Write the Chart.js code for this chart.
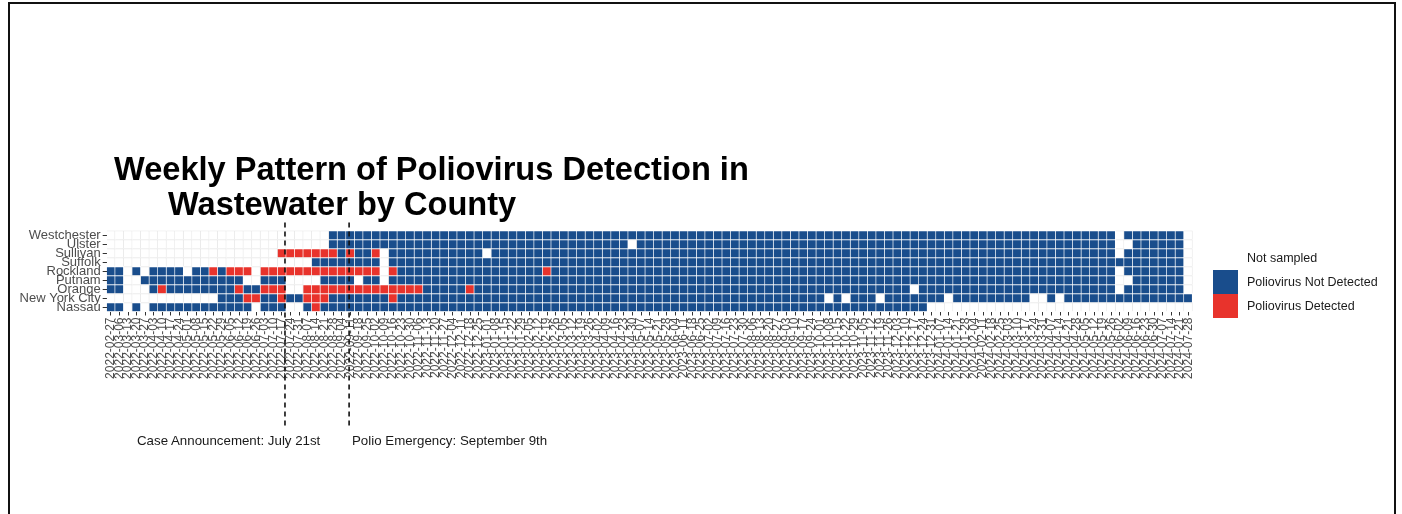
<!DOCTYPE html>
<html>
<head>
<meta charset="utf-8">
<script src="https://cdn.jsdelivr.net/npm/chart.js@4.4.0/dist/chart.umd.min.js"></script>
<style>
  body { margin: 0; background: #fff; }
  #wrap { position: relative; width: 1402px; height: 514px; overflow: hidden; font-family: "Liberation Sans", Arial, sans-serif; }
  #frame { position: absolute; left: 8px; top: 2px; width: 1388px; height: 540px; border: 2px solid #111; box-sizing: border-box; }
  canvas { position: absolute; left: 0; top: 0; }
  .ttl { position: absolute; font-weight: bold; font-size: 32.6px; line-height: 32.6px; color: #000; white-space: nowrap; }
  .note { position: absolute; font-size: 13.3px; line-height: 14px; color: #1a1a1a; white-space: nowrap; }
  .key { position: absolute; left: 1213px; width: 25px; height: 24px; }
  .keytxt { position: absolute; left: 1247px; font-size: 12.5px; line-height: 14px; color: #1a1a1a; white-space: nowrap; }
</style>
</head>
<body>
<div id="wrap">
  <canvas id="heat" width="1402" height="514"></canvas>
  <div id="frame"></div>
  <div class="ttl" style="left:114px;top:153px;">Weekly Pattern of Poliovirus Detection in</div>
  <div class="ttl" style="left:168px;top:188px;">Wastewater by County</div>
  <div class="note" style="left:137px;top:434px;">Case Announcement: July 21st</div>
  <div class="note" style="left:352px;top:434px;">Polio Emergency: September 9th</div>
  <div class="key" style="top:245px;background:#ffffff;"></div>
  <div class="key" style="top:270px;background:#194d8c;"></div>
  <div class="key" style="top:294px;background:#e8332c;"></div>
  <div class="keytxt" style="top:251px;">Not sampled</div>
  <div class="keytxt" style="top:275px;">Poliovirus Not Detected</div>
  <div class="keytxt" style="top:299px;">Poliovirus Detected</div>
</div>
<script>
// DATA
// weekly sample dates (x axis)
const weeks = [
  '2022-02-27',
  '2022-03-06', '2022-03-13', '2022-03-20', '2022-03-27',
  '2022-04-03', '2022-04-10', '2022-04-17', '2022-04-24',
  '2022-05-01', '2022-05-08', '2022-05-15', '2022-05-22', '2022-05-29',
  '2022-06-05', '2022-06-12', '2022-06-19', '2022-06-26',
  '2022-07-03', '2022-07-10', '2022-07-17', '2022-07-24', '2022-07-31',
  '2022-08-07', '2022-08-14', '2022-08-21', '2022-08-28',
  '2022-09-04', '2022-09-11', '2022-09-18', '2022-09-25',
  '2022-10-02', '2022-10-09', '2022-10-16', '2022-10-23', '2022-10-30',
  '2022-11-06', '2022-11-13', '2022-11-20', '2022-11-27',
  '2022-12-04', '2022-12-11', '2022-12-18', '2022-12-25',
  '2023-01-01', '2023-01-08', '2023-01-15', '2023-01-22', '2023-01-29',
  '2023-02-05', '2023-02-12', '2023-02-19', '2023-02-26',
  '2023-03-05', '2023-03-12', '2023-03-19', '2023-03-26',
  '2023-04-02', '2023-04-09', '2023-04-16', '2023-04-23', '2023-04-30',
  '2023-05-07', '2023-05-14', '2023-05-21', '2023-05-28',
  '2023-06-04', '2023-06-11', '2023-06-18', '2023-06-25',
  '2023-07-02', '2023-07-09', '2023-07-16', '2023-07-23', '2023-07-30',
  '2023-08-06', '2023-08-13', '2023-08-20', '2023-08-27',
  '2023-09-03', '2023-09-10', '2023-09-17', '2023-09-24',
  '2023-10-01', '2023-10-08', '2023-10-15', '2023-10-22', '2023-10-29',
  '2023-11-05', '2023-11-12', '2023-11-19', '2023-11-26',
  '2023-12-03', '2023-12-10', '2023-12-17', '2023-12-24', '2023-12-31',
  '2024-01-07', '2024-01-14', '2024-01-21', '2024-01-28',
  '2024-02-04', '2024-02-11', '2024-02-18', '2024-02-25',
  '2024-03-03', '2024-03-10', '2024-03-17', '2024-03-24', '2024-03-31',
  '2024-04-07', '2024-04-14', '2024-04-21', '2024-04-28',
  '2024-05-05', '2024-05-12', '2024-05-19', '2024-05-26',
  '2024-06-02', '2024-06-09', '2024-06-16', '2024-06-23', '2024-06-30',
  '2024-07-07', '2024-07-14', '2024-07-21', '2024-07-28'
];

// rows, top to bottom
const counties = ['Westchester', 'Ulster', 'Sullivan', 'Suffolk', 'Rockland', 'Putnam', 'Orange', 'New York City', 'Nassau'];

// one char per week: 0 = not sampled, 1 = not detected, 2 = detected
const westchester = '0000000000 0000000000 0000001111 1111111111 1111111111 1111111111 1111111111 1111111111 1111111111 1111111111 1111111111 1111111101 1111110';
const ulster      = '0000000000 0000000000 0000001111 1111111111 1111111111 1111111111 1011111111 1111111111 1111111111 1111111111 1111111111 1111111100 1111110';
const sullivan    = '0000000000 0000000000 2222222121 1201111111 1111011111 1111111111 1111111111 1111111111 1111111111 1111111111 1111111111 1111111101 1111110';
const suffolk     = '0000000000 0000000000 0000111111 1101111111 1111111111 1111111111 1111111111 1111111111 1111111111 1111111111 1111111111 1111111111 1111110';
const rockland    = '1101011110 1121222022 2222222222 2202111111 1111111111 1211111111 1111111111 1111111111 1111111111 1111111111 1111111111 1111111101 1111110';
const putnam      = '1100111111 1111110011 1000011110 1101111111 1111111111 1111111111 1111111111 1111111111 1111111111 1111111111 1111111111 1111111100 1111110';
const orange      = '1100012111 1111121122 2002222222 2222222111 1121111111 1111111111 1111111111 1111111111 1111111111 1111011111 1111111111 1111111101 1111110';
const newYorkCity = '0000000000 0001112211 2112221111 1112111111 1111111111 1111111111 1111111111 1111111111 1111010111 0111111101 1111111100 1011111111 1111111';
const nassau      = '1101011111 1111111011 1001211111 1111111111 1111111111 1111111111 1111111111 1111111111 1111111111 1111110000 0000000000 0000000000 0000000';

const statusNames = ['Not sampled', 'Poliovirus Not Detected', 'Poliovirus Detected'];

// dashed event lines, in week-index units
const eventLines = [20.35, 27.85];

// STYLE
const fillColors = ['#ffffff', '#194d8c', '#e8332c'];
const edgeColors = ['#e6e6e6', 'rgba(255,255,255,0.28)', 'rgba(255,255,255,0.28)'];

const statusRows = {
  'Westchester': westchester, 'Ulster': ulster, 'Sullivan': sullivan, 'Suffolk': suffolk,
  'Rockland': rockland, 'Putnam': putnam, 'Orange': orange, 'New York City': newYorkCity, 'Nassau': nassau
};
const toCodes = s => s.replace(/ /g, '').split('').map(Number);

// stacked bars from the bottom row up
const bottomUp = counties.slice().reverse();
const datasets = bottomUp.map(name => {
  const codes = toCodes(statusRows[name]);
  return {
    label: name,
    data: codes.map(() => 1),
    backgroundColor: codes.map(c => fillColors[c]),
    borderColor: codes.map(c => edgeColors[c]),
    borderWidth: { top: 1, right: 1, bottom: 0, left: 0 },
    borderSkipped: false,
    barPercentage: 1,
    categoryPercentage: 1
  };
});

const eventLinePlugin = {
  id: 'eventLines',
  afterDraw(chart) {
    const xs = chart.scales.x, area = chart.chartArea, ctx = chart.ctx;
    ctx.save();
    ctx.strokeStyle = '#111';
    ctx.lineWidth = 1.6;
    ctx.setLineDash([5, 4]);
    eventLines.forEach(v => {
      const px = xs.getPixelForValue(v);
      ctx.beginPath();
      ctx.moveTo(px, area.top - 8);
      ctx.lineTo(px, area.bottom + 117);
      ctx.stroke();
    });
    ctx.restore();
  }
};

const heatCtx = document.getElementById('heat').getContext('2d');
const heatChart = new Chart(heatCtx, {
  type: 'bar',
  data: { labels: weeks, datasets: datasets },
  options: {
    responsive: false,
    animation: false,
    layout: { padding: { left: 6.7, right: 209.4, top: 230.5, bottom: 122.5 } },
    plugins: { legend: { display: false }, tooltip: { enabled: false } },
    scales: {
      x: {
        type: 'category',
        stacked: true,
        offset: true,
        border: { display: false },
        grid: { offset: false, drawOnChartArea: false, drawTicks: true, tickLength: 4, color: '#333' },
        ticks: {
          autoSkip: false, minRotation: 90, maxRotation: 90, padding: 2,
          color: '#4d4d4d', font: { family: 'Liberation Sans', size: 12 }
        },
        afterFit(scale) { scale.height = 80; }
      },
      y: {
        type: 'linear',
        stacked: true,
        min: 0,
        max: counties.length,
        border: { display: false },
        grid: { drawOnChartArea: false, drawTicks: true, tickLength: 4, color: '#333' },
        afterBuildTicks(scale) { scale.ticks = bottomUp.map((c, i) => ({ value: i + 0.5 })); },
        ticks: {
          autoSkip: false,
          padding: 2,
          color: '#4d4d4d',
          font: { family: 'Liberation Sans', size: 13 },
          callback: (v, i) => bottomUp[i]
        },
        afterFit(scale) { scale.width = 100; }
      }
    }
  },
  plugins: [eventLinePlugin]
});
</script>
</body>
</html>
